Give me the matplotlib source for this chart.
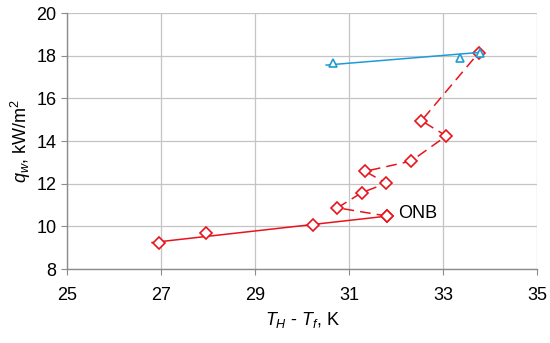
import matplotlib
matplotlib.use("Agg")
import matplotlib.pyplot as plt

# red diamonds: single-phase part (solid) and boiling part (dashed)
x_single = [26.95, 27.95, 30.22, 31.81]
q_single = [9.20, 9.67, 10.08, 10.48]

x_boil = [31.81, 30.75, 31.27, 31.79, 31.34, 32.32, 33.07, 32.54, 33.76]
q_boil = [10.48, 10.87, 11.58, 12.02, 12.58, 13.06, 14.24, 14.95, 18.14]

# blue triangles
x_tri = [30.66, 33.37, 33.78]
q_tri = [17.67, 17.88, 18.14]

# straight trend lines (end points)
x_fit_red = [26.80, 31.81]
q_fit_red = [9.24, 10.48]
x_fit_blue = [30.51, 33.81]
q_fit_blue = [17.56, 18.16]

red = "#e8141c"
blue = "#1f9bd7"

plt.rcParams['font.family'] = ['Liberation Sans', 'DejaVu Sans']
plt.rcParams['mathtext.fontset'] = 'custom'
plt.rcParams['mathtext.rm'] = 'Liberation Sans'
plt.rcParams['mathtext.it'] = 'Liberation Sans:italic'

fig = plt.figure(figsize=(5.5, 3.43), dpi=100)
ax = fig.add_axes([0.1227, 0.2157, 0.8536, 0.7463])

ax.plot(x_fit_red, q_fit_red, color=red, lw=1.1)
ax.plot(x_single, q_single, ls='none', marker='D', ms=6, mfc='white',
        mec=red, mew=1.2)
ax.plot(x_boil, q_boil, color=red, lw=1.1, ls=(0, (7, 4)), marker='D', ms=6,
        mfc='white', mec=red, mew=1.2)
ax.plot(x_fit_blue, q_fit_blue, color=blue, lw=1.1)
ax.plot(x_tri, q_tri, ls='none', marker='^', ms=6, mfc='white', mec=blue,
        mew=1.2)

ax.text(32.05, 10.62, "ONB", fontsize=13, va='center', ha='left')

ax.set_xlim(25, 35)
ax.set_ylim(8, 20)
ax.set_xticks([25, 27, 29, 31, 33, 35])
ax.set_yticks([8, 10, 12, 14, 16, 18, 20])
ax.grid(True, color='#c4c4c4', lw=0.9)
ax.set_axisbelow(True)
for s in ['top', 'right']:
    ax.spines[s].set_visible(False)
for s in ['left', 'bottom']:
    ax.spines[s].set_color('#8c8c8c')
    ax.spines[s].set_linewidth(1.0)
ax.tick_params(length=4, color='#8c8c8c', labelsize=13)
ax.tick_params(axis='x', pad=9)
ax.tick_params(axis='y', pad=4)

ax.set_xlabel(r"$T_H$ - $T_f$, K", fontsize=13, labelpad=4)
ax.set_ylabel(r"$q_w$, kW/m$^2$", fontsize=13, labelpad=2)

fig.savefig("out.png", dpi=100)
